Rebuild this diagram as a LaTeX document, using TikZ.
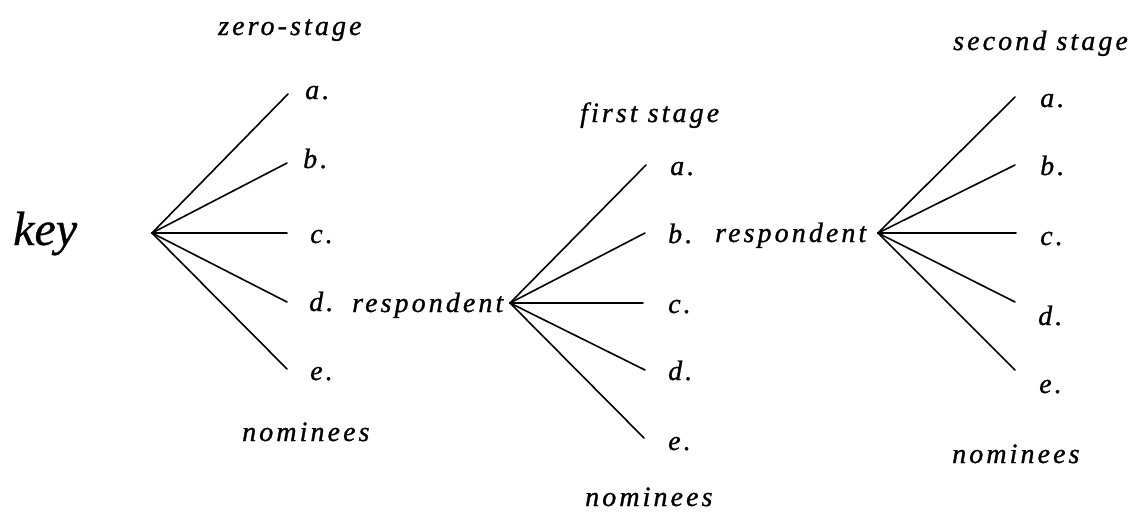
\documentclass[tikz,border=0pt]{standalone}
\usepackage{fontspec}
\setmainfont{Liberation Serif}
\newfontfamily\lblfont[LetterSpace=11,FakeBold=1]{Liberation Serif}
\newfontfamily\keyfont[FakeBold=0.6]{Liberation Serif}
\begin{document}
\begin{tikzpicture}[x=1pt,y=-1pt,
  lab/.style={font=\lblfont\itshape\fontsize{28}{32}\selectfont, inner sep=0pt, anchor=base west},
  branch/.style={line width=1.6pt, line cap=round}]
\useasboundingbox (0,0) rectangle (1134,512);

% ---- zero stage ----
\node[font=\keyfont\itshape\fontsize{48}{56}\selectfont, inner sep=0pt, anchor=base west] (key) at (13,245) {key};
\coordinate (z0) at (152,233);
\coordinate (za) at (288,94);
\coordinate (zb) at (287,163);
\coordinate (zc) at (287,233);
\coordinate (zd) at (287,302);
\coordinate (ze) at (287,369);
\foreach \t in {a,b,c,d,e} \draw[branch] (z0) -- (z\t);
\node[lab] (zlab) at (218,35) {zero-stage};
\node[lab] (zla) at (305,99) {a.};
\node[lab] (zlb) at (303,168) {b.};
\node[lab] (zlc) at (310,243) {c.};
\node[lab] (zld) at (309,311) {d.};
\node[lab] (zle) at (310,380) {e.};
\node[lab] (znom) at (242,441) {nominees};

% ---- first stage ----
\node[lab] (r1) at (352,312) {respondent};
\coordinate (f0) at (510,303);
\coordinate (fa) at (646,165);
\coordinate (fb) at (645,233);
\coordinate (fc) at (643,303);
\coordinate (fd) at (645,370);
\coordinate (fe) at (644,438);
\foreach \t in {a,b,c,d,e} \draw[branch] (f0) -- (f\t);
\node[lab] (flab) at (580,122) {first stage};
\node[lab] (fla) at (670,175) {a.};
\node[lab] (flb) at (668,243) {b.};
\node[lab] (flc) at (668,313) {c.};
\node[lab] (fld) at (668,380) {d.};
\node[lab] (fle) at (668,450) {e.};
\node[lab] (fnom) at (585,506) {nominees};

% ---- second stage ----
\node[lab] (r2) at (715,242) {respondent};
\coordinate (s0) at (878,233);
\coordinate (sa) at (1015,97);
\coordinate (sb) at (1015,165);
\coordinate (sc) at (1016,233);
\coordinate (sd) at (1015,302);
\coordinate (se) at (1015,370);
\foreach \t in {a,b,c,d,e} \draw[branch] (s0) -- (s\t);
\node[lab] (slab) at (953,50) {second stage};
\node[lab] (sla) at (1040,107) {a.};
\node[lab] (slb) at (1040,175) {b.};
\node[lab] (slc) at (1040,245) {c.};
\node[lab] (sld) at (1038,325) {d.};
\node[lab] (sle) at (1039,393) {e.};
\node[lab] (snom) at (952,463) {nominees};
\end{tikzpicture}
\end{document}
